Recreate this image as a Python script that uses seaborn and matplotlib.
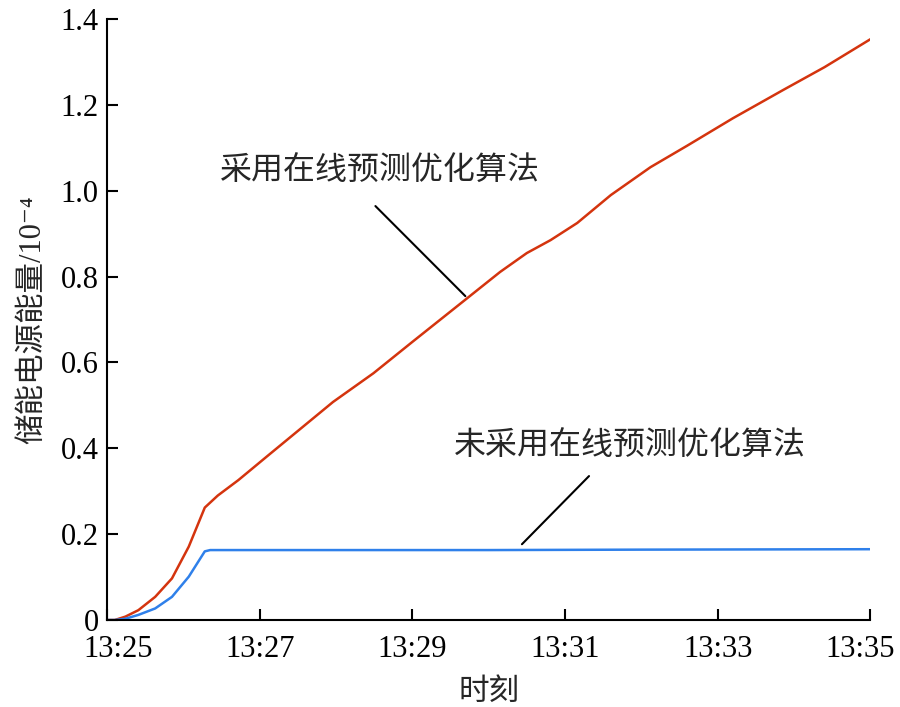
import matplotlib
matplotlib.use("Agg")
import matplotlib.pyplot as plt
import matplotlib.transforms as mtransforms
import pandas as pd
import seaborn as sns
from matplotlib.ticker import FixedLocator, FuncFormatter

# minutes after 13:25
t_opt = [0, 0.10, 0.24, 0.41, 0.63, 0.85, 1.07, 1.28, 1.45, 1.72, 2.1, 2.96, 3.49, 4.0,
         4.72, 5.15, 5.5, 5.81, 6.16, 6.6, 7.12, 7.6, 8.2, 8.86, 9.4, 10]
e_opt = [0, 0.0, 0.008, 0.023, 0.054, 0.097, 0.171, 0.262, 0.290, 0.326, 0.382, 0.508,
         0.575, 0.648, 0.750, 0.811, 0.855, 0.885, 0.925, 0.99, 1.055, 1.105, 1.169,
         1.235, 1.288, 1.353]
t_base = [0, 0.10, 0.24, 0.41, 0.63, 0.85, 1.07, 1.28, 1.35, 3, 5, 7, 10]
e_base = [0, 0.0, 0.003, 0.012, 0.027, 0.054, 0.101, 0.160, 0.163, 0.163, 0.163, 0.164, 0.165]
x_ticks = [0, 2, 4, 6, 8, 10]
x_labels = ["13:25", "13:27", "13:29", "13:31", "13:33", "13:35"]
y_ticks = [0, 0.2, 0.4, 0.6, 0.8, 1.0, 1.2, 1.4]

sns.set_style("ticks")
plt.rcParams["font.family"] = ["Liberation Serif", "Noto Sans CJK SC", "DejaVu Sans"]

df_opt = pd.DataFrame({"t": t_opt, "e": e_opt})
df_base = pd.DataFrame({"t": t_base, "e": e_base})

fig = plt.figure(figsize=(9, 7.07), dpi=100)
ax = fig.add_axes([0.119, 0.123, 0.848, 0.850])

sns.lineplot(data=df_opt, x="t", y="e", ax=ax, color="#d4340e", linewidth=1.8)
sns.lineplot(data=df_base, x="t", y="e", ax=ax, color="#2f80ea", linewidth=1.8)

ax.set_xlim(0, 10)
ax.set_ylim(0, 1.4)
ax.xaxis.set_major_locator(FixedLocator(x_ticks))
ax.set_xticklabels(x_labels)
ax.yaxis.set_major_locator(FixedLocator(y_ticks))
ax.yaxis.set_major_formatter(FuncFormatter(lambda v, p: "0" if v == 0 else f"{v:.1f}"))
ax.tick_params(direction="in", length=8, width=1.5, labelsize=22, colors="black")
ax.tick_params(axis="x", pad=11)
ax.tick_params(axis="y", pad=6)

# 首尾刻度标签稍微内移
labels = ax.get_xticklabels()
labels[0].set_transform(labels[0].get_transform()
                        + mtransforms.ScaledTranslation(8 / 72, 0, fig.dpi_scale_trans))
labels[-1].set_transform(labels[-1].get_transform()
                         + mtransforms.ScaledTranslation(-7 / 72, 0, fig.dpi_scale_trans))

for s in ["top", "right"]:
    ax.spines[s].set_visible(False)
for s in ["left", "bottom"]:
    ax.spines[s].set_linewidth(1.5)
    ax.spines[s].set_color("black")

ax.set_xlabel("时刻", fontsize=22, labelpad=10)
ax.set_ylabel("储能电源能量/10⁻⁴", fontsize=22, labelpad=10)

# 注释
ax.text(3.58, 1.044, "采用在线预测优化算法", fontsize=23, ha="center", va="center")
ax.annotate("", xy=(4.72, 0.75), xytext=(3.49, 0.969),
            arrowprops=dict(arrowstyle="-", color="black", lw=1.5))
ax.text(6.85, 0.403, "未采用在线预测优化算法", fontsize=23, ha="center", va="center")
ax.annotate("", xy=(5.41, 0.172), xytext=(6.34, 0.340),
            arrowprops=dict(arrowstyle="-", color="black", lw=1.5))

fig.savefig("out.png", dpi=100)
